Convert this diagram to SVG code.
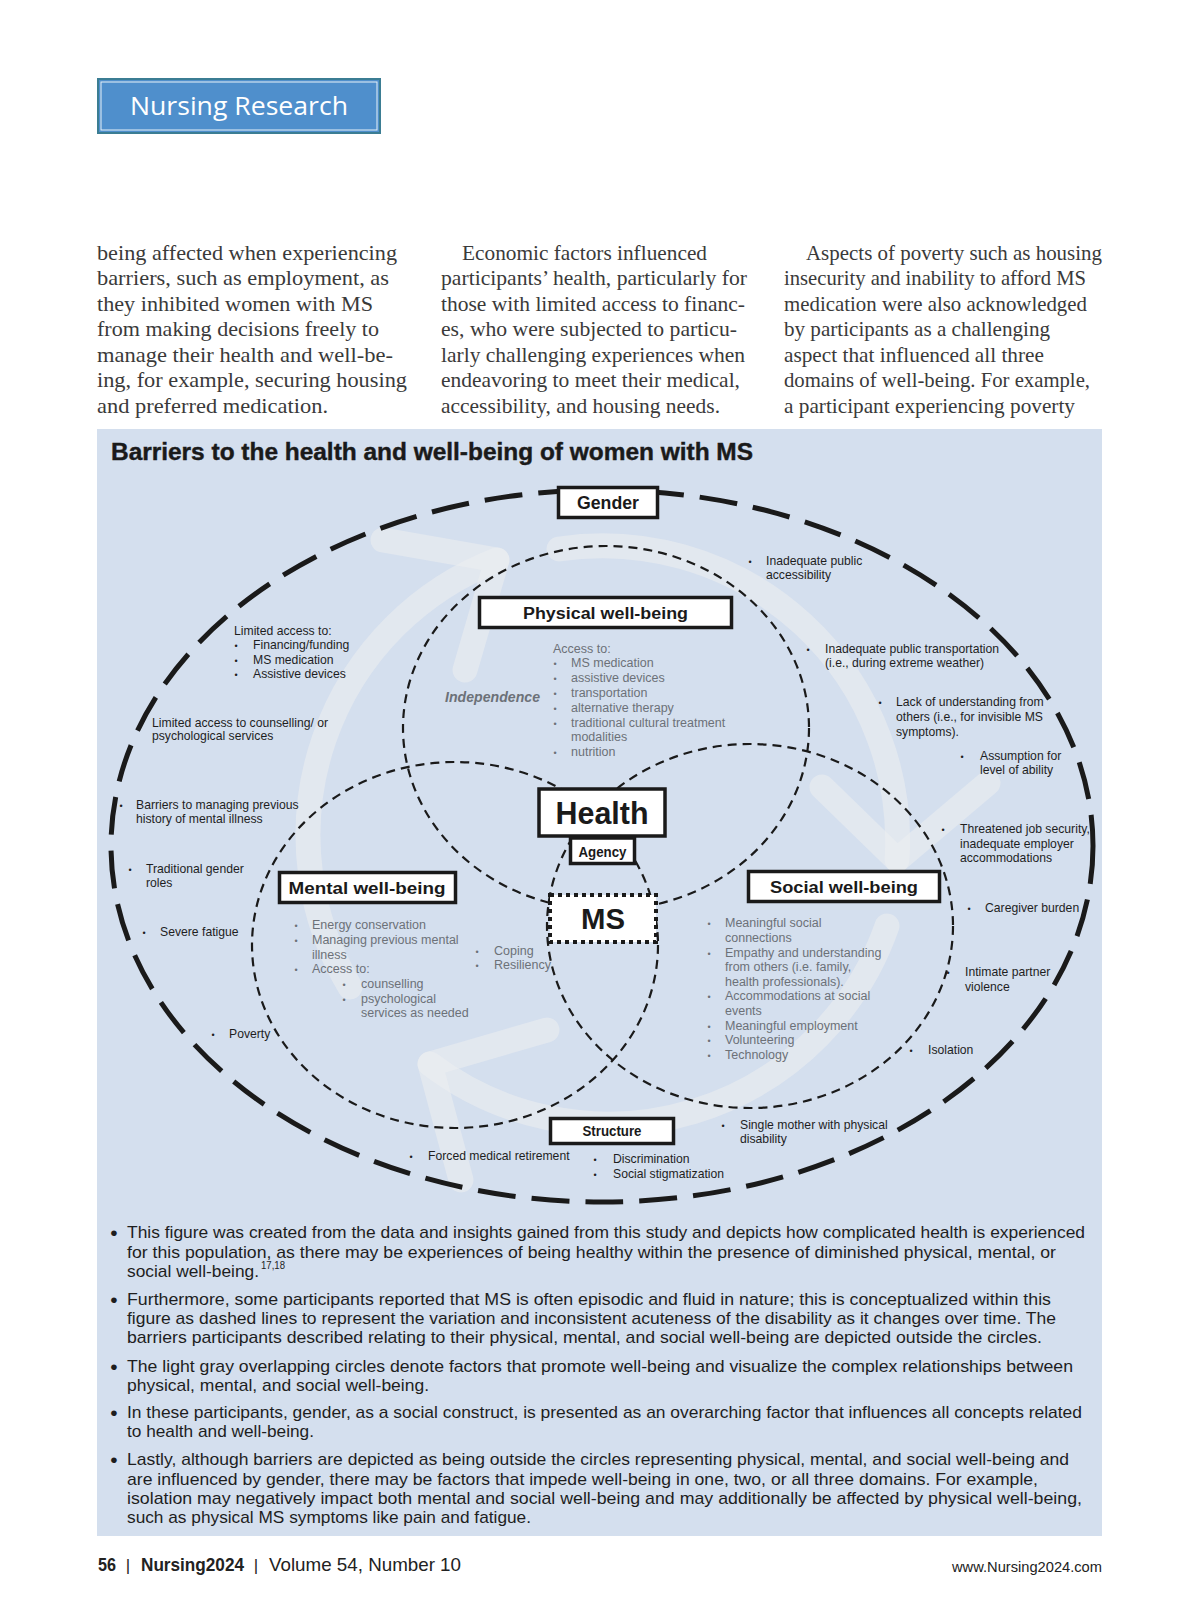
<svg xmlns="http://www.w3.org/2000/svg" width="1200" height="1624" viewBox="0 0 1200 1624">
<defs>
<style>
.body{font-family:"Liberation Serif","Times New Roman",serif;font-size:21px;fill:#3a3a3a}
.s{font-family:"Liberation Sans",Arial,sans-serif;font-size:12.2px;fill:#1e1e1e}
.g{font-family:"Liberation Sans",Arial,sans-serif;font-size:12.5px;fill:#6c7178}
.bu{font-family:"Liberation Sans",Arial,sans-serif;font-size:9px;text-anchor:middle}
.lbl{font-family:"Liberation Sans",Arial,sans-serif;font-weight:bold;fill:#1a1a1a;text-anchor:middle}
.box{fill:#fff;stroke:#1a1a1a;stroke-width:3.5}
.dom{fill:none;stroke:#1a1a1a;stroke-width:2.2;stroke-dasharray:9 6}
.note{font-family:"Liberation Sans",Arial,sans-serif;font-size:17px;fill:#1e1e1e}
.nb{font-size:21px;text-anchor:middle}
.band{fill:none;stroke:#eceef0;stroke-opacity:0.55;stroke-width:25;stroke-linecap:round;stroke-linejoin:round}
.foot{font-family:"Liberation Sans",Arial,sans-serif;font-size:19px;fill:#222}
</style>
</defs>
<rect width="1200" height="1624" fill="#fff"/>

<g id="header">
<rect x="98" y="79" width="282" height="54" fill="#4f8fcc" stroke="#3b7d93" stroke-width="2"/>
<rect x="101" y="82" width="276" height="48" fill="none" stroke="#e8f1f8" stroke-width="1"/>
<text x="130" y="115" font-family="'Open Sans','Noto Sans',sans-serif" font-size="25" fill="#fff" textLength="218" lengthAdjust="spacingAndGlyphs">Nursing Research</text>
</g>

<g id="body-text" class="body">
<text x="97" y="259.5" textLength="300" lengthAdjust="spacingAndGlyphs">being affected when experiencing</text>
<text x="97" y="285" textLength="292" lengthAdjust="spacingAndGlyphs">barriers, such as employment, as</text>
<text x="97" y="310.5" textLength="276" lengthAdjust="spacingAndGlyphs">they inhibited women with MS</text>
<text x="97" y="336" textLength="282" lengthAdjust="spacingAndGlyphs">from making decisions freely to</text>
<text x="97" y="361.5" textLength="296" lengthAdjust="spacingAndGlyphs">manage their health and well-be-</text>
<text x="97" y="387" textLength="310" lengthAdjust="spacingAndGlyphs">ing, for example, securing housing</text>
<text x="97" y="412.5" textLength="231" lengthAdjust="spacingAndGlyphs">and preferred medication.</text>

<text x="462" y="259.5" textLength="245" lengthAdjust="spacingAndGlyphs">Economic factors influenced</text>
<text x="441" y="285" textLength="306" lengthAdjust="spacingAndGlyphs">participants’ health, particularly for</text>
<text x="441" y="310.5" textLength="304" lengthAdjust="spacingAndGlyphs">those with limited access to financ-</text>
<text x="441" y="336" textLength="296" lengthAdjust="spacingAndGlyphs">es, who were subjected to particu-</text>
<text x="441" y="361.5" textLength="304" lengthAdjust="spacingAndGlyphs">larly challenging experiences when</text>
<text x="441" y="387" textLength="299" lengthAdjust="spacingAndGlyphs">endeavoring to meet their medical,</text>
<text x="441" y="412.5" textLength="279" lengthAdjust="spacingAndGlyphs">accessibility, and housing needs.</text>

<text x="806" y="259.5" textLength="296" lengthAdjust="spacingAndGlyphs">Aspects of poverty such as housing</text>
<text x="784" y="285" textLength="302" lengthAdjust="spacingAndGlyphs">insecurity and inability to afford MS</text>
<text x="784" y="310.5" textLength="303" lengthAdjust="spacingAndGlyphs">medication were also acknowledged</text>
<text x="784" y="336" textLength="266" lengthAdjust="spacingAndGlyphs">by participants as a challenging</text>
<text x="784" y="361.5" textLength="260" lengthAdjust="spacingAndGlyphs">aspect that influenced all three</text>
<text x="784" y="387" textLength="306" lengthAdjust="spacingAndGlyphs">domains of well-being. For example,</text>
<text x="784" y="412.5" textLength="291" lengthAdjust="spacingAndGlyphs">a participant experiencing poverty</text>
</g>

<g id="panel">
<rect x="97" y="429" width="1005" height="1107" fill="#d4dfee"/>
<text x="111" y="460" font-family="'Liberation Sans',Arial,sans-serif" font-weight="bold" font-size="23" fill="#1a1a1a" stroke="#1a1a1a" stroke-width="0.4" textLength="642" lengthAdjust="spacingAndGlyphs">Barriers to the health and well-being of women with MS</text>
</g>

<g id="cycle-arrows" class="band">
<path d="M350 987 A295 295 0 0 1 497 560"/>
<path d="M383 540 L497 560 L465 670"/>
<path d="M559 549 A295 295 0 0 1 897 860"/>
<path d="M822 787 L897 860 L988 783"/>
<path d="M887 926 A295 295 0 0 1 430 1064"/>
<path d="M547 1030 L430 1064 L461 1180"/>
</g>

<g id="connectors">
<ellipse id="gender-ring" cx="602" cy="846" rx="491" ry="356" fill="none" stroke="#1a1a1a" stroke-width="5" stroke-dasharray="38 16"/>
<ellipse id="physical-circle" class="dom" cx="606" cy="728" rx="203" ry="182"/>
<ellipse id="mental-circle" class="dom" cx="455" cy="945" rx="203" ry="183"/>
<ellipse id="social-circle" class="dom" cx="750" cy="926" rx="203" ry="182"/>
</g>

<g id="node-gender">
<rect class="box" x="558.5" y="487.5" width="99" height="30"/>
<text class="lbl" x="608" y="509" font-size="17.5" textLength="62" lengthAdjust="spacingAndGlyphs">Gender</text>
</g>
<g id="node-physical">
<rect class="box" x="479.5" y="597.5" width="252" height="30"/>
<text class="lbl" x="605.5" y="618.5" font-size="16.8" textLength="165" lengthAdjust="spacingAndGlyphs">Physical well-being</text>
</g>
<g id="node-mental">
<rect class="box" x="279.5" y="872.5" width="176" height="30"/>
<text class="lbl" x="367" y="894" font-size="16.8" textLength="157" lengthAdjust="spacingAndGlyphs">Mental well-being</text>
</g>
<g id="node-social">
<rect class="box" x="748.5" y="871.5" width="191" height="30"/>
<text class="lbl" x="844" y="893" font-size="16.8" textLength="148" lengthAdjust="spacingAndGlyphs">Social well-being</text>
</g>
<g id="node-health">
<rect class="box" x="539" y="789" width="126" height="47" stroke-width="4.5"/>
<text class="lbl" x="602" y="823.5" font-size="31" textLength="93" lengthAdjust="spacingAndGlyphs">Health</text>
</g>
<g id="node-agency">
<rect class="box" x="570.5" y="838" width="64" height="25.5" stroke-width="3"/>
<text class="lbl" x="602.5" y="856.5" font-size="14" textLength="48" lengthAdjust="spacingAndGlyphs">Agency</text>
</g>
<g id="node-ms">
<rect x="550" y="895" width="106" height="47" fill="#fff" stroke="#1a1a1a" stroke-width="4" stroke-dasharray="4 4"/>
<text class="lbl" x="603" y="929" font-size="30" textLength="44" lengthAdjust="spacingAndGlyphs">MS</text>
</g>
<g id="node-structure">
<rect class="box" x="550.5" y="1118.5" width="123" height="25"/>
<text class="lbl" x="612" y="1136" font-size="14" textLength="59" lengthAdjust="spacingAndGlyphs">Structure</text>
</g>

<g id="physical-factors">
<text class="g" x="553" y="653">Access to:</text>
<text class="g bu" x="555" y="667">•</text><text class="g" x="571" y="667">MS medication</text>
<text class="g bu" x="555" y="682">•</text><text class="g" x="571" y="682">assistive devices</text>
<text class="g bu" x="555" y="697">•</text><text class="g" x="571" y="697">transportation</text>
<text class="g bu" x="555" y="712">•</text><text class="g" x="571" y="712">alternative therapy</text>
<text class="g bu" x="555" y="727">•</text><text class="g" x="571" y="727">traditional cultural treatment</text>
<text class="g" x="571" y="741">modalities</text>
<text class="g bu" x="555" y="756">•</text><text class="g" x="571" y="756">nutrition</text>
<text x="445" y="702" font-family="'Liberation Sans',Arial,sans-serif" font-weight="bold" font-style="italic" font-size="14" fill="#6c7178" textLength="95" lengthAdjust="spacingAndGlyphs">Independence</text>
</g>

<g id="mental-factors">
<text class="g bu" x="296" y="929">•</text><text class="g" x="312" y="929">Energy conservation</text>
<text class="g bu" x="296" y="944">•</text><text class="g" x="312" y="944">Managing previous mental</text>
<text class="g" x="312" y="959">illness</text>
<text class="g bu" x="296" y="973">•</text><text class="g" x="312" y="973">Access to:</text>
<text class="g bu" x="344" y="988">•</text><text class="g" x="361" y="988">counselling</text>
<text class="g bu" x="344" y="1003">•</text><text class="g" x="361" y="1003">psychological</text>
<text class="g" x="361" y="1017">services as needed</text>
<text class="g bu" x="477" y="955">•</text><text class="g" x="494" y="955">Coping</text>
<text class="g bu" x="477" y="969">•</text><text class="g" x="494" y="969">Resiliency</text>
</g>

<g id="social-factors">
<text class="g bu" x="709" y="927">•</text><text class="g" x="725" y="927">Meaningful social</text>
<text class="g" x="725" y="942">connections</text>
<text class="g bu" x="709" y="957">•</text><text class="g" x="725" y="957">Empathy and understanding</text>
<text class="g" x="725" y="971">from others (i.e. family,</text>
<text class="g" x="725" y="986">health professionals).</text>
<text class="g bu" x="709" y="1000">•</text><text class="g" x="725" y="1000">Accommodations at social</text>
<text class="g" x="725" y="1015">events</text>
<text class="g bu" x="709" y="1030">•</text><text class="g" x="725" y="1030">Meaningful employment</text>
<text class="g bu" x="709" y="1044">•</text><text class="g" x="725" y="1044">Volunteering</text>
<text class="g bu" x="709" y="1059">•</text><text class="g" x="725" y="1059">Technology</text>
</g>

<g id="barriers">
<text class="s" x="234" y="635">Limited access to:</text>
<text class="s bu" x="236" y="649">•</text><text class="s" x="253" y="649">Financing/funding</text>
<text class="s bu" x="236" y="664">•</text><text class="s" x="253" y="664">MS medication</text>
<text class="s bu" x="236" y="678">•</text><text class="s" x="253" y="678">Assistive devices</text>
<text class="s" x="152" y="727">Limited access to counselling/ or</text>
<text class="s" x="152" y="740">psychological services</text>
<text class="s bu" x="121" y="809">•</text><text class="s" x="136" y="809">Barriers to managing previous</text>
<text class="s" x="136" y="823">history of mental illness</text>
<text class="s bu" x="130" y="873">•</text><text class="s" x="146" y="873">Traditional gender</text>
<text class="s" x="146" y="887">roles</text>
<text class="s bu" x="144" y="936">•</text><text class="s" x="160" y="936">Severe fatigue</text>
<text class="s bu" x="213" y="1038">•</text><text class="s" x="229" y="1038">Poverty</text>
<text class="s bu" x="411" y="1160">•</text><text class="s" x="428" y="1160">Forced medical retirement</text>
<text class="s bu" x="595" y="1163">•</text><text class="s" x="613" y="1163">Discrimination</text>
<text class="s bu" x="595" y="1178">•</text><text class="s" x="613" y="1178">Social stigmatization</text>
<text class="s bu" x="723" y="1129">•</text><text class="s" x="740" y="1129">Single mother with physical</text>
<text class="s" x="740" y="1143">disability</text>
<text class="s bu" x="911" y="1054">•</text><text class="s" x="928" y="1054">Isolation</text>
<text class="s bu" x="948" y="976">•</text><text class="s" x="965" y="976">Intimate partner</text>
<text class="s" x="965" y="991">violence</text>
<text class="s bu" x="969" y="912">•</text><text class="s" x="985" y="912">Caregiver burden</text>
<text class="s bu" x="943" y="833">•</text><text class="s" x="960" y="833">Threatened job security,</text>
<text class="s" x="960" y="848">inadequate employer</text>
<text class="s" x="960" y="862">accommodations</text>
<text class="s bu" x="962" y="760">•</text><text class="s" x="980" y="760">Assumption for</text>
<text class="s" x="980" y="774">level of ability</text>
<text class="s bu" x="880" y="706">•</text><text class="s" x="896" y="706">Lack of understanding from</text>
<text class="s" x="896" y="721">others (i.e., for invisible MS</text>
<text class="s" x="896" y="736">symptoms).</text>
<text class="s bu" x="808" y="653">•</text><text class="s" x="825" y="653">Inadequate public transportation</text>
<text class="s" x="825" y="667">(i.e., during extreme weather)</text>
<text class="s bu" x="750" y="565">•</text><text class="s" x="766" y="565">Inadequate public</text>
<text class="s" x="766" y="579">accessibility</text>
</g>

<g id="notes" class="note">
<text class="nb" x="114" y="1240">•</text>
<text x="127" y="1238" textLength="958" lengthAdjust="spacingAndGlyphs">This figure was created from the data and insights gained from this study and depicts how complicated health is experienced</text>
<text x="127" y="1258" textLength="929" lengthAdjust="spacingAndGlyphs">for this population, as there may be experiences of being healthy within the presence of diminished physical, mental, or</text>
<text x="127" y="1277" textLength="132" lengthAdjust="spacingAndGlyphs">social well-being.</text>
<text x="261" y="1269" font-size="10" textLength="24" lengthAdjust="spacingAndGlyphs">17,18</text>
<text class="nb" x="114" y="1307">•</text>
<text x="127" y="1305" textLength="924" lengthAdjust="spacingAndGlyphs">Furthermore, some participants reported that MS is often episodic and fluid in nature; this is conceptualized within this</text>
<text x="127" y="1324" textLength="929" lengthAdjust="spacingAndGlyphs">figure as dashed lines to represent the variation and inconsistent acuteness of the disability as it changes over time. The</text>
<text x="127" y="1343" textLength="915" lengthAdjust="spacingAndGlyphs">barriers participants described relating to their physical, mental, and social well-being are depicted outside the circles.</text>
<text class="nb" x="114" y="1374">•</text>
<text x="127" y="1372" textLength="946" lengthAdjust="spacingAndGlyphs">The light gray overlapping circles denote factors that promote well-being and visualize the complex relationships between</text>
<text x="127" y="1391" textLength="302" lengthAdjust="spacingAndGlyphs">physical, mental, and social well-being.</text>
<text class="nb" x="114" y="1420">•</text>
<text x="127" y="1418" textLength="955" lengthAdjust="spacingAndGlyphs">In these participants, gender, as a social construct, is presented as an overarching factor that influences all concepts related</text>
<text x="127" y="1437" textLength="187" lengthAdjust="spacingAndGlyphs">to health and well-being.</text>
<text class="nb" x="114" y="1467">•</text>
<text x="127" y="1465" textLength="942" lengthAdjust="spacingAndGlyphs">Lastly, although barriers are depicted as being outside the circles representing physical, mental, and social well-being and</text>
<text x="127" y="1485" textLength="911" lengthAdjust="spacingAndGlyphs">are influenced by gender, there may be factors that impede well-being in one, two, or all three domains. For example,</text>
<text x="127" y="1504" textLength="955" lengthAdjust="spacingAndGlyphs">isolation may negatively impact both mental and social well-being and may additionally be affected by physical well-being,</text>
<text x="127" y="1523" textLength="404" lengthAdjust="spacingAndGlyphs">such as physical MS symptoms like pain and fatigue.</text>
</g>

<g id="footer" class="foot">
<text x="98" y="1571" font-weight="bold" textLength="18" lengthAdjust="spacingAndGlyphs">56</text>
<text x="128" y="1571" text-anchor="middle" font-size="17">|</text>
<text x="141" y="1571" font-weight="bold" textLength="103" lengthAdjust="spacingAndGlyphs">Nursing2024</text>
<text x="256" y="1571" text-anchor="middle" font-size="17">|</text>
<text x="269" y="1571" textLength="192" lengthAdjust="spacingAndGlyphs">Volume 54, Number 10</text>
<text x="952" y="1572" font-size="15.5" textLength="150" lengthAdjust="spacingAndGlyphs">www.Nursing2024.com</text>
</g>
</svg>
